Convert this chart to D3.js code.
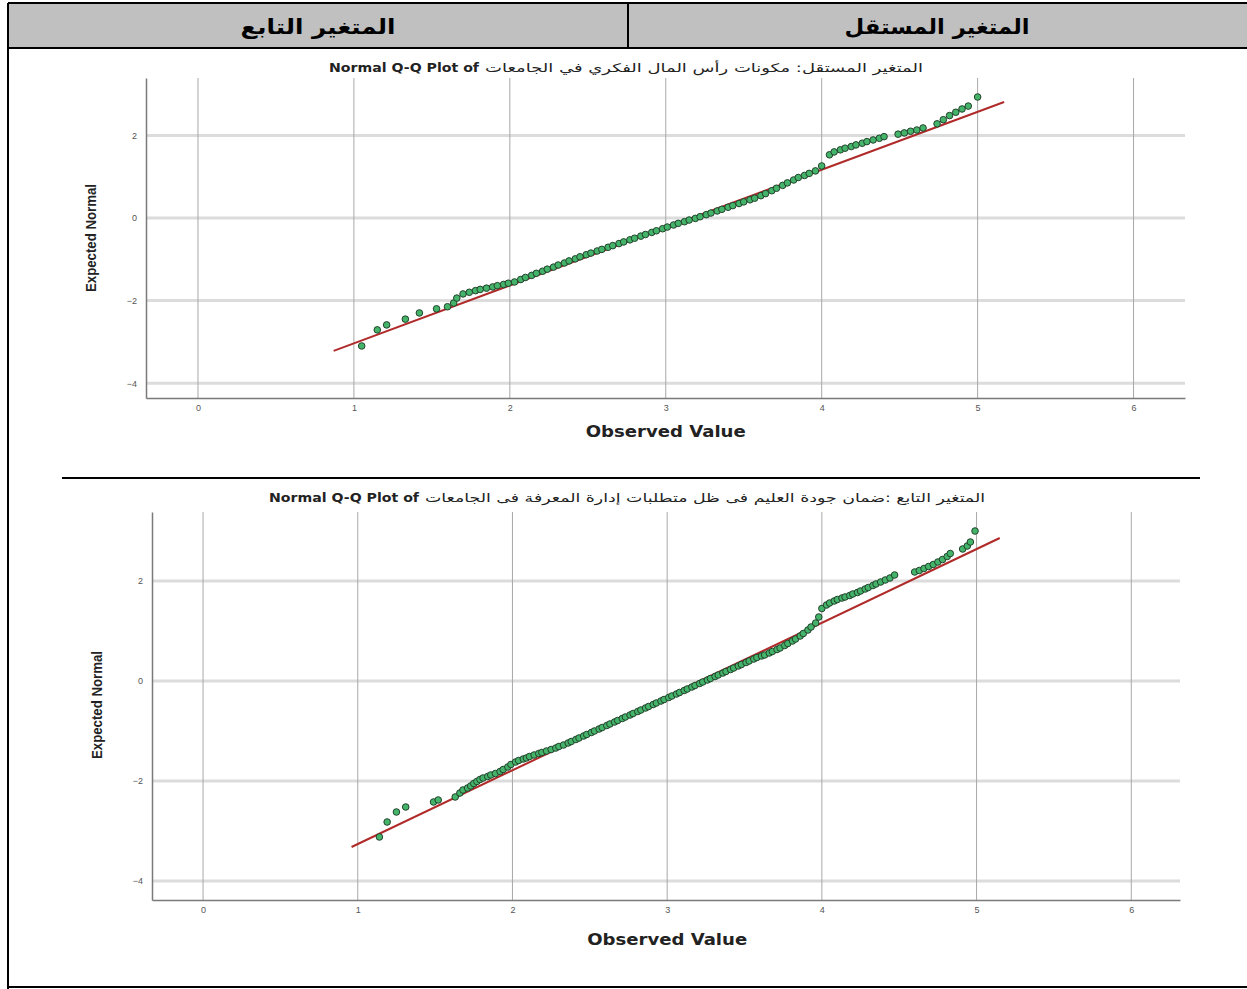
<!DOCTYPE html>
<html>
<head>
<meta charset="utf-8">
<script src="https://cdn.jsdelivr.net/npm/d3@7"></script>
<style>
  html, body { margin: 0; padding: 0; background: #fff; }
  svg { display: block; }
</style>
</head>
<body>
<svg id="chart" width="1247" height="989"></svg>
<script>
// ---------------- DATA ----------------
const headerLabels = ["المتغير التابع", "المتغير المستقل"];
const titlePrefix = "Normal Q-Q Plot of";
const topTitleVar = "المتغير المستقل: مكونات رأس المال الفكري في الجامعات";
const bottomTitleVar = "المتغير التابع :ضمان جودة العليم فى ظل متطلبات إدارة المعرفة فى الجامعات";
const xAxisTitle = "Observed Value";
const yAxisTitle = "Expected Normal";
const xTicks = [0, 1, 2, 3, 4, 5, 6];
const yTicks = [2, 0, -2, -4];

// Top plot (independent variable): observed values and expected normal values
const topX = [1.05, 1.15, 1.21, 1.33, 1.42, 1.53, 1.60, 1.64, 1.66, 1.70,
  1.74, 1.78, 1.81, 1.85, 1.89, 1.92, 1.96, 1.99,
  2.03, 2.07, 2.10, 2.14, 2.17, 2.21, 2.24, 2.28, 2.31, 2.35, 2.38, 2.42, 2.45, 2.49, 2.52, 2.56, 2.59,
  2.63, 2.66, 2.70, 2.73, 2.77, 2.80, 2.84, 2.87, 2.91, 2.94, 2.98, 3.01, 3.05, 3.08, 3.12, 3.15,
  3.19, 3.22, 3.26, 3.29, 3.33, 3.36, 3.40, 3.43, 3.47, 3.50, 3.54, 3.57, 3.61, 3.64, 3.68, 3.71,
  3.75, 3.78, 3.82, 3.85, 3.89, 3.92, 3.96, 4.00,
  4.05, 4.08, 4.12, 4.15, 4.19, 4.22, 4.26, 4.29, 4.33, 4.37, 4.40,
  4.49, 4.53, 4.57, 4.61, 4.65,
  4.74, 4.78, 4.82, 4.86, 4.90, 4.94, 5.00];
const topY = [-3.10, -2.71, -2.59, -2.45, -2.30, -2.20, -2.15, -2.06, -1.94, -1.84,
  -1.80, -1.76, -1.73, -1.70, -1.67, -1.64, -1.61, -1.58,
  -1.55, -1.49, -1.44, -1.39, -1.34, -1.29, -1.24, -1.19, -1.14, -1.09, -1.04, -0.99, -0.94, -0.89, -0.85, -0.80, -0.76,
  -0.71, -0.67, -0.62, -0.58, -0.53, -0.49, -0.44, -0.40, -0.35, -0.31, -0.26, -0.22, -0.17, -0.13, -0.09, -0.05,
  -0.01, 0.03, 0.08, 0.12, 0.17, 0.21, 0.26, 0.30, 0.35, 0.39, 0.44, 0.48, 0.54, 0.59, 0.66, 0.72,
  0.79, 0.85, 0.92, 0.98, 1.03, 1.08, 1.14, 1.26,
  1.53, 1.60, 1.65, 1.69, 1.73, 1.77, 1.81, 1.85, 1.89, 1.93, 1.97,
  2.03, 2.06, 2.10, 2.13, 2.18,
  2.28, 2.38, 2.48, 2.56, 2.64, 2.71, 2.93];
const topLineX = [0.87, 5.17];
const topLineY = [-3.22, 2.81];

// Bottom plot (dependent variable)
const bottomX = [1.14, 1.19, 1.25, 1.31, 1.49, 1.52, 1.63, 1.66, 1.68, 1.71, 1.73, 1.75, 1.77, 1.79,
  1.81, 1.84, 1.86, 1.89, 1.92, 1.94, 1.97, 1.99, 2.02, 2.04, 2.07, 2.09, 2.11, 2.14, 2.17, 2.19,
  2.22, 2.25, 2.28, 2.30,
  2.33, 2.36, 2.38, 2.41, 2.43, 2.46, 2.48, 2.51, 2.53, 2.56, 2.58, 2.61, 2.63, 2.66, 2.68, 2.71,
  2.73, 2.76, 2.78, 2.81, 2.83, 2.86, 2.88, 2.91, 2.93, 2.96, 2.98, 3.01, 3.03, 3.06, 3.08, 3.11,
  3.13, 3.16, 3.18, 3.21, 3.23, 3.26, 3.28, 3.31, 3.33, 3.36, 3.38, 3.41, 3.43, 3.46, 3.48, 3.51,
  3.53, 3.56, 3.58, 3.61, 3.63, 3.66, 3.68, 3.71, 3.73, 3.76, 3.78, 3.81, 3.83, 3.86, 3.88, 3.91,
  3.93, 3.96, 3.98, 4.00,
  4.03, 4.05, 4.08, 4.10, 4.13, 4.15, 4.18, 4.20, 4.23, 4.25, 4.28, 4.30, 4.33, 4.35, 4.38, 4.41,
  4.44, 4.47,
  4.60, 4.63, 4.66, 4.69, 4.72, 4.75, 4.78, 4.81, 4.83, 4.91, 4.94, 4.96, 4.99];
const bottomY = [-3.12, -2.82, -2.62, -2.52, -2.42, -2.38, -2.32, -2.24, -2.18, -2.14, -2.10, -2.05, -2.01, -1.97,
  -1.94, -1.91, -1.88, -1.85, -1.81, -1.77, -1.72, -1.67, -1.62, -1.59, -1.56, -1.54, -1.51, -1.48, -1.45, -1.43,
  -1.40, -1.37, -1.34, -1.31,
  -1.28, -1.24, -1.21, -1.17, -1.14, -1.10, -1.07, -1.03, -1.00, -0.96, -0.93, -0.89, -0.86, -0.82, -0.79, -0.75,
  -0.72, -0.68, -0.65, -0.61, -0.58, -0.54, -0.51, -0.47, -0.44, -0.40, -0.37, -0.33, -0.30, -0.26, -0.23, -0.19,
  -0.16, -0.12, -0.09, -0.05, -0.02, 0.02, 0.05, 0.09, 0.12, 0.16, 0.19, 0.23, 0.26, 0.30, 0.33, 0.37,
  0.40, 0.44, 0.47, 0.50, 0.52, 0.56, 0.59, 0.63, 0.66, 0.71, 0.75, 0.80, 0.84, 0.90, 0.95, 1.02,
  1.08, 1.16, 1.28, 1.45,
  1.52, 1.56, 1.60, 1.63, 1.66, 1.68, 1.71, 1.74, 1.77, 1.80, 1.84, 1.87, 1.91, 1.94, 1.98, 2.02,
  2.06, 2.12,
  2.18, 2.21, 2.25, 2.29, 2.33, 2.38, 2.43, 2.49, 2.55, 2.64, 2.70, 2.78, 3.00];
const bottomLineX = [0.96, 5.15];
const bottomLineY = [-3.32, 2.86];

// ---------------- DRAW ----------------
const svg = d3.select("#chart");
svg.append("rect").attr("width", 1247).attr("height", 989).attr("fill", "#fff");

// Header row
const frame = svg.append("g");
frame.append("rect").attr("x", 8).attr("y", 3).attr("width", 1245).attr("height", 45).attr("fill", "#c0c0c0");
const lines = [
  [8, 3, 1247, 3], [8, 48, 1247, 48], [8, 3, 8, 989], [628, 3, 628, 48],
  [62, 478, 1200, 478], [8, 987, 1247, 987]
];
frame.selectAll("line").data(lines).join("line")
  .attr("x1", d => d[0]).attr("y1", d => d[1]).attr("x2", d => d[2]).attr("y2", d => d[3])
  .attr("stroke", "#000").attr("stroke-width", 2);
const hdrCenters = [318, 937];
const hdrWidths = [155, 185];
frame.selectAll("text.hdr").data(headerLabels).join("text")
  .attr("class", "hdr")
  .attr("x", (d, i) => hdrCenters[i]).attr("y", 34)
  .attr("text-anchor", "middle")
  .attr("font-family", "DejaVu Sans").attr("font-weight", "bold").attr("font-size", 21)
  .attr("textLength", (d, i) => hdrWidths[i]).attr("lengthAdjust", "spacingAndGlyphs")
  .text(d => d);

function drawQQ(cfg) {
  const g = svg.append("g");
  const x = d3.scaleLinear().domain(cfg.xDomain).range(cfg.xRange);
  const y = d3.scaleLinear().domain(cfg.yDomain).range(cfg.yRange);
  const [x0, x1] = cfg.xRange;
  const [yb, yt] = cfg.yRange;

  // horizontal gridlines (light, thick)
  g.append("g").selectAll("line").data(yTicks).join("line")
    .attr("x1", x0).attr("x2", x1).attr("y1", d => y(d)).attr("y2", d => y(d))
    .attr("stroke", "#dcdcdc").attr("stroke-width", 3);
  // vertical gridlines
  g.append("g").selectAll("line").data(xTicks).join("line")
    .attr("x1", d => x(d)).attr("x2", d => x(d)).attr("y1", yt).attr("y2", yb)
    .attr("stroke", "#a8a8a8").attr("stroke-width", 1);

  // axes
  const yAxis = g.append("g").attr("transform", `translate(${x0},0)`)
    .call(d3.axisLeft(y).tickValues(yTicks).tickSize(0).tickPadding(9).tickFormat(d3.format("d")));
  const xAxis = g.append("g").attr("transform", `translate(0,${yb})`)
    .call(d3.axisBottom(x).tickValues(xTicks).tickSize(0).tickPadding(7).tickFormat(d3.format("d")));
  [yAxis, xAxis].forEach(a => {
    a.select(".domain").attr("stroke", "#7a7a7a").attr("stroke-width", 1.5);
    a.selectAll("text").attr("font-family", "Liberation Sans").attr("font-size", 9).attr("fill", "#555");
  });

  // fit line
  const lineData = cfg.lineX.map((v, i) => [v, cfg.lineY[i]]);
  g.append("path").datum(lineData)
    .attr("d", d3.line().x(d => x(d[0])).y(d => y(d[1])))
    .attr("stroke", "#b02a2a").attr("stroke-width", 2).attr("fill", "none");

  // points
  const pts = cfg.px.map((v, i) => [v, cfg.py[i]]);
  g.append("g").selectAll("circle").data(pts).join("circle")
    .attr("cx", d => x(d[0])).attr("cy", d => y(d[1])).attr("r", 3.3)
    .attr("fill", "#43b46a").attr("stroke", "#24422c").attr("stroke-width", 1);

  // axis titles
  g.append("text").attr("x", x(3)).attr("y", cfg.xTitleY).attr("text-anchor", "middle")
    .attr("font-family", "DejaVu Sans").attr("font-weight", "bold").attr("font-size", 15)
    .attr("textLength", 160).attr("lengthAdjust", "spacingAndGlyphs")
    .attr("fill", "#222").text(xAxisTitle);
  g.append("text").attr("transform", `translate(${cfg.yTitleX},${cfg.yTitleCY}) rotate(-90)`)
    .attr("text-anchor", "middle")
    .attr("font-family", "Liberation Sans Narrow, Liberation Sans").attr("font-weight", "bold").attr("font-size", 15)
    .attr("textLength", 108).attr("lengthAdjust", "spacingAndGlyphs")
    .attr("fill", "#222").text(yAxisTitle);

  // title: Latin prefix on left, Arabic variable name on right
  g.append("text").attr("x", cfg.titleLeft).attr("y", cfg.titleY)
    .attr("text-anchor", "start")
    .attr("font-family", "DejaVu Sans").attr("font-weight", "bold").attr("font-size", 13).attr("fill", "#222")
    .attr("textLength", 150).attr("lengthAdjust", "spacingAndGlyphs")
    .text(titlePrefix);
  g.append("text").attr("x", cfg.titleRight).attr("y", cfg.titleY)
    .attr("text-anchor", "end")
    .attr("font-family", "DejaVu Sans").attr("font-size", 12).attr("fill", "#222")
    .attr("textLength", cfg.titleRight - cfg.titleLeft - 156).attr("lengthAdjust", "spacingAndGlyphs")
    .text(cfg.titleVar);
}

drawQQ({
  xDomain: [-1/3, 6.33], xRange: [146, 1185],
  yDomain: [-4.36, 3.39], yRange: [398, 78],
  px: topX, py: topY, lineX: topLineX, lineY: topLineY,
  xTitleY: 437, yTitleX: 96, yTitleCY: 238,
  titleLeft: 329, titleRight: 923, titleY: 72, titleVar: topTitleVar
});
drawQQ({
  xDomain: [-0.33, 6.315], xRange: [152, 1180],
  yDomain: [-4.38, 3.38], yRange: [900, 512],
  px: bottomX, py: bottomY, lineX: bottomLineX, lineY: bottomLineY,
  xTitleY: 945, yTitleX: 102, yTitleCY: 705,
  titleLeft: 269, titleRight: 985, titleY: 502, titleVar: bottomTitleVar
});
</script>
</body>
</html>
